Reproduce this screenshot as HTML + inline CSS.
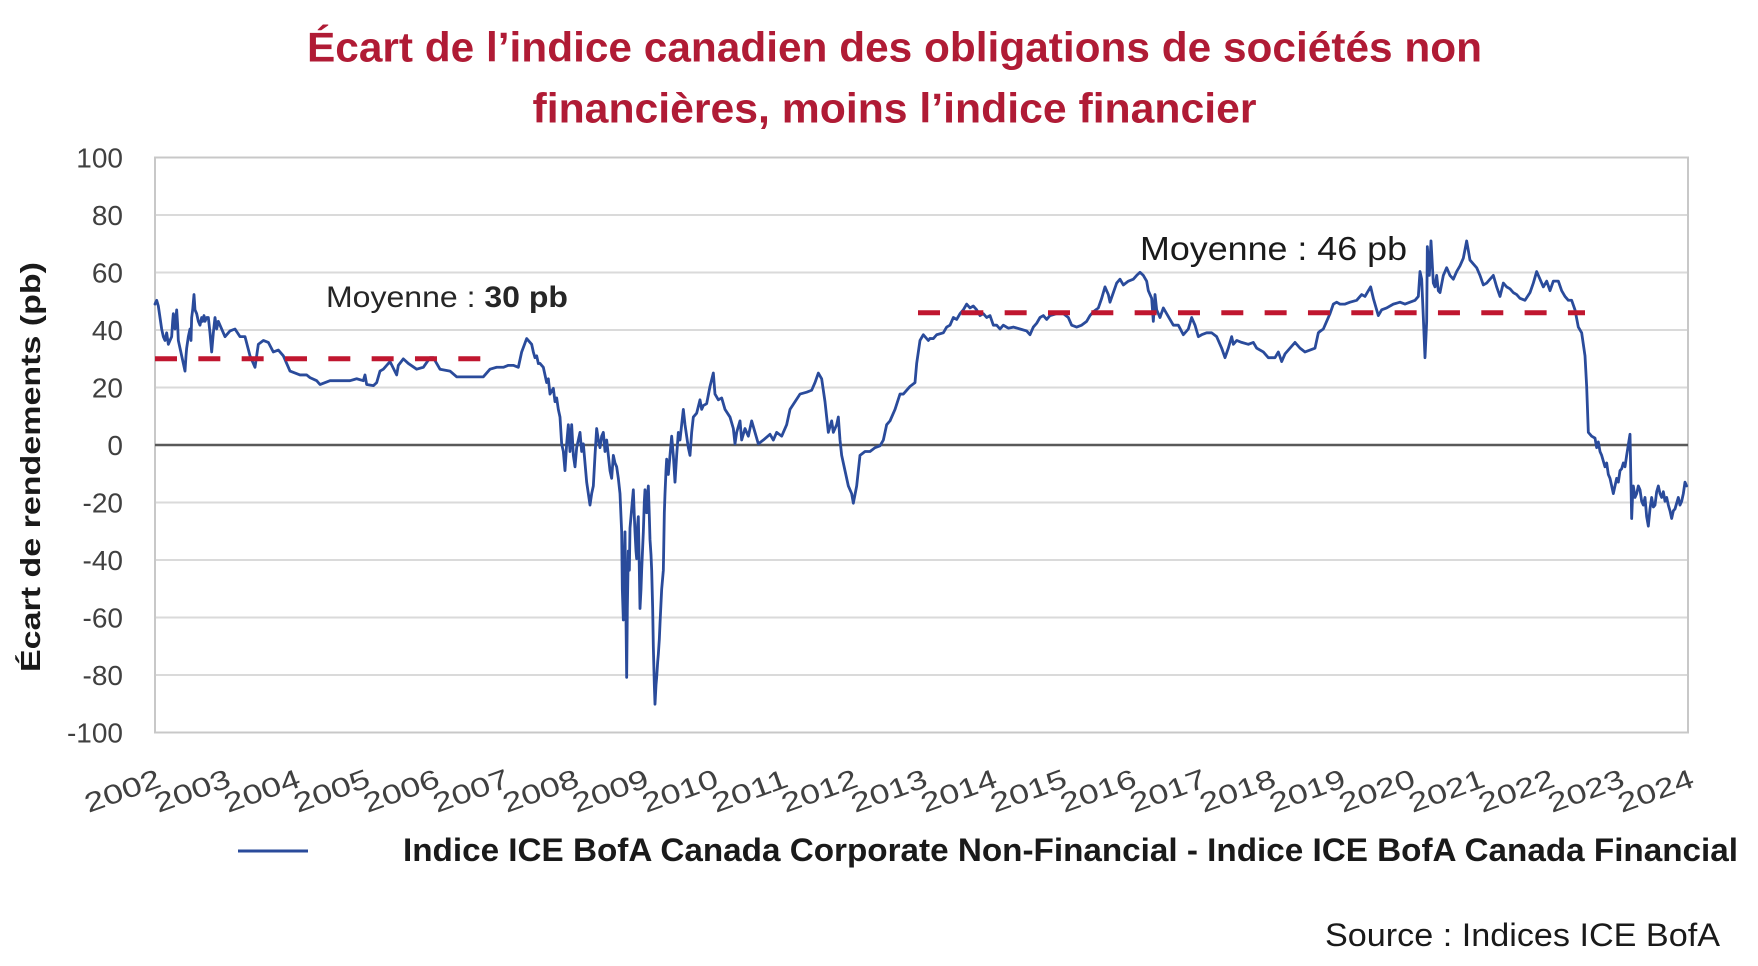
<!DOCTYPE html>
<html>
<head>
<meta charset="utf-8">
<style>
  html, body { margin: 0; padding: 0; background: #ffffff; }
  svg { display: block; }
  text { font-family: "Liberation Sans", "DejaVu Sans", sans-serif; }
</style>
</head>
<body>
<svg width="1758" height="966" viewBox="0 0 1758 966" xmlns="http://www.w3.org/2000/svg">
  <rect x="0" y="0" width="1758" height="966" fill="#ffffff"/>

  <!-- Title -->
  <text x="894.5" y="61.7" text-anchor="middle" font-size="42" font-weight="bold" fill="#B01B35" textLength="1175" lengthAdjust="spacingAndGlyphs">Écart de l’indice canadien des obligations de sociétés non</text>
  <text x="894.5" y="122.7" text-anchor="middle" font-size="42" font-weight="bold" fill="#B01B35" textLength="724" lengthAdjust="spacingAndGlyphs">financières, moins l’indice financier</text>

  <!-- Gridlines -->
  <g stroke="#DADADA" stroke-width="2">
    <line x1="155" y1="215" x2="1688" y2="215"/>
    <line x1="155" y1="272.5" x2="1688" y2="272.5"/>
    <line x1="155" y1="330" x2="1688" y2="330"/>
    <line x1="155" y1="387.5" x2="1688" y2="387.5"/>
    <line x1="155" y1="502.5" x2="1688" y2="502.5"/>
    <line x1="155" y1="560" x2="1688" y2="560"/>
    <line x1="155" y1="617.5" x2="1688" y2="617.5"/>
    <line x1="155" y1="675" x2="1688" y2="675"/>
  </g>
  <!-- Plot border -->
  <rect x="155" y="157.5" width="1533" height="575" fill="none" stroke="#C8C8C8" stroke-width="2"/>
  <!-- Zero line -->
  <line x1="155" y1="445" x2="1688" y2="445" stroke="#595959" stroke-width="2.6"/>

  <!-- Y tick labels -->
  <g font-size="28" fill="#404040" text-anchor="end">
    <text x="123" y="167.5">100</text>
    <text x="123" y="225">80</text>
    <text x="123" y="282.5">60</text>
    <text x="123" y="340">40</text>
    <text x="123" y="397.5">20</text>
    <text x="123" y="455">0</text>
    <text x="123" y="512.5">-20</text>
    <text x="123" y="570">-40</text>
    <text x="123" y="627.5">-60</text>
    <text x="123" y="685">-80</text>
    <text x="123" y="742.5">-100</text>
  </g>

  <!-- Y axis title -->
  <text transform="translate(40,467) rotate(-90)" text-anchor="middle" font-size="28" font-weight="bold" fill="#1a1a1a" textLength="410" lengthAdjust="spacingAndGlyphs">Écart de rendements (pb)</text>

  <!-- X tick labels (rotated) -->
  <g font-size="27" fill="#404040">
    <text transform="translate(88.5,813) rotate(-20)" textLength="79" lengthAdjust="spacingAndGlyphs">2002</text>
    <text transform="translate(158.2,813) rotate(-20)" textLength="79" lengthAdjust="spacingAndGlyphs">2003</text>
    <text transform="translate(227.9,813) rotate(-20)" textLength="79" lengthAdjust="spacingAndGlyphs">2004</text>
    <text transform="translate(297.6,813) rotate(-20)" textLength="79" lengthAdjust="spacingAndGlyphs">2005</text>
    <text transform="translate(367.2,813) rotate(-20)" textLength="79" lengthAdjust="spacingAndGlyphs">2006</text>
    <text transform="translate(436.9,813) rotate(-20)" textLength="79" lengthAdjust="spacingAndGlyphs">2007</text>
    <text transform="translate(506.6,813) rotate(-20)" textLength="79" lengthAdjust="spacingAndGlyphs">2008</text>
    <text transform="translate(576.3,813) rotate(-20)" textLength="79" lengthAdjust="spacingAndGlyphs">2009</text>
    <text transform="translate(646.0,813) rotate(-20)" textLength="79" lengthAdjust="spacingAndGlyphs">2010</text>
    <text transform="translate(715.7,813) rotate(-20)" textLength="79" lengthAdjust="spacingAndGlyphs">2011</text>
    <text transform="translate(785.4,813) rotate(-20)" textLength="79" lengthAdjust="spacingAndGlyphs">2012</text>
    <text transform="translate(855.0,813) rotate(-20)" textLength="79" lengthAdjust="spacingAndGlyphs">2013</text>
    <text transform="translate(924.7,813) rotate(-20)" textLength="79" lengthAdjust="spacingAndGlyphs">2014</text>
    <text transform="translate(994.4,813) rotate(-20)" textLength="79" lengthAdjust="spacingAndGlyphs">2015</text>
    <text transform="translate(1064.1,813) rotate(-20)" textLength="79" lengthAdjust="spacingAndGlyphs">2016</text>
    <text transform="translate(1133.8,813) rotate(-20)" textLength="79" lengthAdjust="spacingAndGlyphs">2017</text>
    <text transform="translate(1203.5,813) rotate(-20)" textLength="79" lengthAdjust="spacingAndGlyphs">2018</text>
    <text transform="translate(1273.2,813) rotate(-20)" textLength="79" lengthAdjust="spacingAndGlyphs">2019</text>
    <text transform="translate(1342.8,813) rotate(-20)" textLength="79" lengthAdjust="spacingAndGlyphs">2020</text>
    <text transform="translate(1412.5,813) rotate(-20)" textLength="79" lengthAdjust="spacingAndGlyphs">2021</text>
    <text transform="translate(1482.2,813) rotate(-20)" textLength="79" lengthAdjust="spacingAndGlyphs">2022</text>
    <text transform="translate(1551.9,813) rotate(-20)" textLength="79" lengthAdjust="spacingAndGlyphs">2023</text>
    <text transform="translate(1621.6,813) rotate(-20)" textLength="79" lengthAdjust="spacingAndGlyphs">2024</text>
  </g>

  <!-- Data series -->
  <g fill="none" stroke="#2A4B9B" stroke-width="2.8" stroke-linejoin="round" stroke-linecap="round">
    <polyline vector-effect="non-scaling-stroke" transform="translate(150,445) scale(0.333333,0.382848) translate(0,-773)"
      points="15,405 20,395 25,410 30,440 35,470 40,490 45,500 50,480 55,510 60,500 65,490 68,450 70,430 75,470 80,420 83,460 85,500 90,520 95,540 100,560 105,580 108,540 110,520 115,490 120,470 123,500 125,440 128,420 132,380 135,420 140,430 145,450 150,460 155,440 158,450 162,435 165,450 170,440 175,440 180,480 185,530 190,480 195,440 200,470 205,450 210,460 225,490 240,475 255,470 270,490 285,490 300,540 315,570 325,510 340,500 355,505 370,530 385,525 400,540 420,580 450,590 470,590 480,597 500,605 510,615 540,605 560,605 600,605 620,600 640,605 645,590 650,615 670,618 680,610 690,580 700,575 710,565 720,555 740,590 745,565 760,548 775,560 800,575 820,570 840,545 850,545 870,575 900,580 920,595 1000,595 1020,575 1040,570 1060,570 1075,565 1090,565 1105,570 1115,530 1130,495 1145,510 1150,530 1155,545 1160,540 1165,560"/>
    <polyline vector-effect="non-scaling-stroke" transform="translate(540,445) scale(0.333333,0.382848) translate(0,-773)"
      points="-5,560 0,560 10,570 20,610 25,600 30,640 40,625 45,660 50,650 55,680 60,700 65,770 70,790 75,840 80,770 85,720 90,790 95,720 100,800 105,830 110,780 115,760 120,740 125,790 130,770 135,820 140,870 145,900 150,930 155,900 160,880 165,800 170,730 175,760 180,780 185,750 190,740 195,790 200,760 205,800 210,840 215,860 220,800 225,820 230,830 235,860 240,900 243,960 245,1000 247,1150 250,1230 252,1100 255,1000 257,1150 260,1380 262,1200 265,1050 268,1100 270,990 275,940 280,890 283,960 285,1000 288,1050 290,1070 293,980 295,960 298,1100 300,1200 303,1150 305,1100 308,1040 310,1000 313,920 315,890 318,930 320,950 323,900 325,880 328,960 330,1020 333,1060 335,1100 338,1200 340,1300 343,1400 345,1450 348,1400 350,1380 353,1340 355,1320 358,1280 360,1240 365,1150 370,1100 373,950 375,900 378,840 380,810 385,850 390,800 395,750 400,800 405,870 410,800 415,740 420,760 425,720 430,680 435,720 440,750 445,780 450,800 455,740 460,700 470,690 480,655 485,680 490,670 500,665 510,620 520,585 525,640 535,655 545,650 555,680 570,700 580,730 585,770 590,740 600,710 605,760 615,730 625,750 635,710 645,740 655,770 670,760 690,745 700,760 710,740 725,750 740,720 750,680 765,660 780,640 800,635 815,630 825,610 835,585 845,600 855,660 860,700 865,740 875,710 880,740 890,720 895,700 900,760 905,800 915,840 925,880 935,900 940,925 950,880 960,800 975,790 990,790 1005,780 1020,775 1030,760 1040,720 1050,710 1065,680 1080,640 1090,640 1110,620 1125,610 1130,560 1140,500 1150,485 1165,500 1170,495"/>
    <polyline vector-effect="non-scaling-stroke" transform="translate(930,445) scale(0.333333,0.382848) translate(0,-773)"
      points="0,495 10,495 20,485 40,480 50,465 60,460 70,440 80,445 90,430 100,420 110,405 120,415 130,410 140,420 150,435 160,430 170,440 180,435 190,460 200,460 210,470 220,460 235,468 250,465 270,470 290,475 300,485 310,465 320,455 330,440 340,435 350,445 360,435 380,430 400,430 415,440 425,460 440,465 455,460 470,450 480,435 490,425 505,415 515,390 525,360 535,380 540,400 550,375 560,350 570,340 580,355 595,345 610,340 620,330 630,322 640,330 650,345 655,370 665,390 670,450 675,380 680,420 690,440 700,415 710,430 720,445 730,460 745,460 760,485 775,470 785,440 795,460 805,490 815,485 830,480 845,480 860,490 875,520 885,545 895,520 905,490 910,510 920,500 935,505 955,510 970,505 980,520 1000,530 1015,545 1035,545 1045,530 1055,555 1065,535 1080,520 1095,505 1110,520 1125,530 1140,525 1155,520 1165,480 1170,476"/>
    <polyline vector-effect="non-scaling-stroke" transform="translate(1320,445) scale(0.333333,0.382848) translate(0,-773)"
      points="0,476 10,470 20,450 30,430 40,405 50,400 60,405 75,405 90,400 110,395 125,380 135,385 145,370 152,360 160,390 170,420 175,435 185,420 200,415 220,405 240,400 255,405 270,400 285,395 295,385 300,320 305,340 310,440 315,545 320,450 322,255 328,330 333,240 340,350 345,360 350,330 355,370 360,375 370,330 380,310 390,330 400,340 410,320 420,305 430,285 440,240 450,290 460,300 470,310 480,330 490,355 500,350 510,340 520,330 530,360 540,385 550,350 560,360 570,365 580,375 590,380 600,390 615,395 630,375 640,350 650,320 660,340 670,360 680,345 690,370 700,345 715,345 725,370 735,385 745,395 755,395 765,420 775,465 785,480 795,540 800,620 805,740 815,750 825,755 830,780 835,765 840,790 845,800 850,815 855,830 860,820 865,850 870,860 875,880 880,900 885,880 890,860 895,870 900,840 905,835 910,820 915,830 920,800 930,745 935,965 938,900 940,880 945,910 950,900 955,880 960,890 965,920 970,930 975,910 980,960 985,985 990,940 995,910 1000,935 1005,930 1010,895 1015,880 1020,900 1025,910 1030,895 1035,920 1040,910 1045,930 1050,945 1055,965 1060,945 1065,940 1070,925 1075,910 1080,930 1085,920 1090,900 1095,870 1100,880"/>
  </g>

  <!-- Average dashed lines -->
  <line x1="155" y1="358.75" x2="482" y2="358.75" stroke="#C0162F" stroke-width="5" stroke-dasharray="22 21.33"/>
  <line x1="918" y1="312.75" x2="1585" y2="312.75" stroke="#C0162F" stroke-width="5" stroke-dasharray="22 21.33"/>

  <!-- Annotations -->
  <text x="326" y="307" font-size="30" fill="#262626" textLength="242" lengthAdjust="spacingAndGlyphs">Moyenne : <tspan font-weight="bold">30 pb</tspan></text>
  <text x="1140" y="260" font-size="33" fill="#1a1a1a" textLength="267" lengthAdjust="spacingAndGlyphs">Moyenne : 46 pb</text>

  <!-- Legend -->
  <line x1="238" y1="851" x2="308" y2="851" stroke="#2A4B9B" stroke-width="3"/>
  <text x="403" y="861" font-size="32" font-weight="bold" fill="#1a1a1a" textLength="1335" lengthAdjust="spacingAndGlyphs">Indice ICE BofA Canada Corporate Non-Financial - Indice ICE BofA Canada Financial</text>

  <!-- Source -->
  <text x="1325" y="946" font-size="32" fill="#1a1a1a" textLength="395" lengthAdjust="spacingAndGlyphs">Source : Indices ICE BofA</text>
</svg>
</body>
</html>
